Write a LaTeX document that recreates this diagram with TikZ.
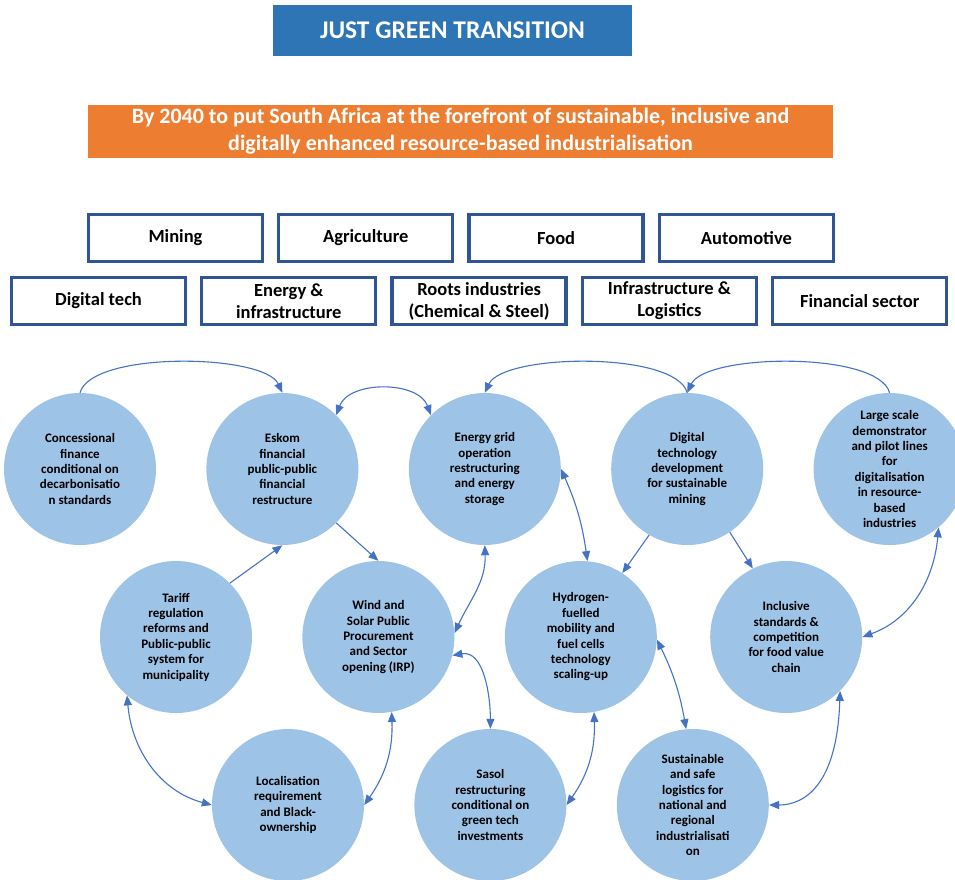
\documentclass[tikz,border=0pt]{standalone}
\usepackage{fontspec}
\setmainfont{Carlito}
\usetikzlibrary{positioning, arrows.meta}

\definecolor{titleblue}{HTML}{2E75B6}
\definecolor{visionorange}{HTML}{ED7D31}
\definecolor{sectorframe}{HTML}{2F5597}
\definecolor{actionfill}{HTML}{9DC3E6}
\definecolor{linkblue}{HTML}{4472C4}

\begin{document}
\begin{tikzpicture}[
		x=1pt, y=1pt,
		heading/.style={rectangle, fill=titleblue, text=white, inner sep=0pt, minimum width=359pt, minimum height=51pt, font=\fontsize{25.5}{30}\selectfont\bfseries},
		vision/.style={rectangle, fill=visionorange, text=white, align=center, inner sep=0pt, minimum width=745pt, minimum height=53pt, font=\fontsize{22}{27}\selectfont\bfseries},
		sector/.style={rectangle, draw=sectorframe, line width=3.3pt, fill=white, align=center, inner sep=0pt, minimum width=174pt, minimum height=47pt, font=\fontsize{18.5}{22}\selectfont\bfseries},
		action/.style={circle, fill=actionfill, align=center, inner sep=0pt, minimum size=152pt, font=\fontsize{13}{15.4}\selectfont\bfseries},
		link/.style={draw=linkblue, line width=1.1pt, -{Triangle[length=10pt, width=8pt]}},
		twoway/.style={link, {Triangle[length=10pt, width=8pt]}-{Triangle[length=10pt, width=8pt]}},
		node distance=50pt
	]

	\useasboundingbox (0,0) rectangle (955,-879);
	\clip (0,0) rectangle (955,-879);

	\node[heading] (title) at (452.5,-30.5) {JUST GREEN TRANSITION};
	\node[vision] (goal) at (460.5,-131.5) {By 2040 to put South Africa at the forefront of sustainable, inclusive and\\digitally enhanced resource-based industrialisation};

	% sectors
	\node[sector] (mining) at (175.5,-238) {Mining};
	\node[sector, right=13pt of mining] (agri) {Agriculture};
	\node[sector, right=13pt of agri] (food) {Food};
	\node[sector, right=13pt of food] (auto) {Automotive};
	\node[sector] (digitech) at (98.5,-301) {Digital tech};
	\node[sector, right=13pt of digitech] (energy) {Energy \&\\infrastructure};
	\node[sector, right=13pt of energy] (roots) {Roots industries\\(Chemical \& Steel)};
	\node[sector, right=13pt of roots] (infra) {Infrastructure \&\\Logistics};
	\node[sector, right=13pt of infra] (finance) {Financial sector};

	% action circles
	\node[action] (conc) at (80,-469) {Concessional\\finance\\conditional on\\decarbonisatio\\n standards};
	\node[action, right=of conc] (eskom) {Eskom\\financial\\public-public\\financial\\restructure};
	\node[action, right=of eskom] (grid) {Energy grid\\operation\\restructuring\\and energy\\storage};
	\node[action, right=of grid] (digital) {Digital\\technology\\development\\for sustainable\\mining};
	\node[action, right=of digital] (pilot) {Large scale\\demonstrator\\and pilot lines\\for\\digitalisation\\in resource-\\based\\industries};
	\node[action] (tariff) at (176,-637) {Tariff\\regulation\\reforms and\\Public-public\\system for\\municipality};
	\node[action, right=of tariff] (wind) {Wind and\\Solar Public\\Procurement\\and Sector\\opening (IRP)};
	\node[action, right=of wind] (hydro) {Hydrogen-\\fuelled\\mobility and\\fuel cells\\technology\\scaling-up};
	\node[action, right=53pt of hydro] (inclusive) {Inclusive\\standards \&\\competition\\for food value\\chain};
	\node[action] (local) at (288,-805) {Localisation\\requirement\\and Black-\\ownership};
	\node[action, right=of local] (sasol) {Sasol\\restructuring\\conditional on\\green tech\\investments};
	\node[action, right=of sasol] (logistics) {Sustainable\\and safe\\logistics for\\national and\\regional\\industrialisati\\on};

	\foreach \i/\j in {eskom.-45/wind.north, tariff.45/eskom.south, digital.-120/hydro.57, digital.-56/inclusive.116}
		\draw[link] (\i) -- (\j);

	\draw[link] (conc.north) to[out=75, in=115, looseness=0.55] (eskom.north);
	\foreach \i/\j in {digital/grid, pilot/digital}
		\draw[link] (\i.north) to[out=105, in=65, looseness=0.55] (\j.north);

	\draw[twoway] (eskom.45) to[out=70, in=110] (grid.135);
	\draw[twoway] (grid.east) to[bend left=8] (hydro.85);
	\draw[twoway] (hydro.-2) to[bend left=8] (logistics.95);
	\draw[twoway] (grid.south) to[out=-88, in=65] (wind.3);
	\draw[twoway] (wind.-14) to[out=10, in=90] (sasol.north);
	\draw[twoway] (pilot.-50) to[out=-95, in=20] (inclusive.east);
	\draw[twoway] (tariff.-130) to[out=-85, in=165] (local.west);

	\foreach \i/\j in {wind/local, hydro/sasol}
		\draw[twoway] (\i.-80) to[out=-88, in=55] (\j.east);

	\draw[twoway] (inclusive.-45) .. controls +(-3,-95) and +(35,0) .. (logistics.east);

\end{tikzpicture}
\end{document}
